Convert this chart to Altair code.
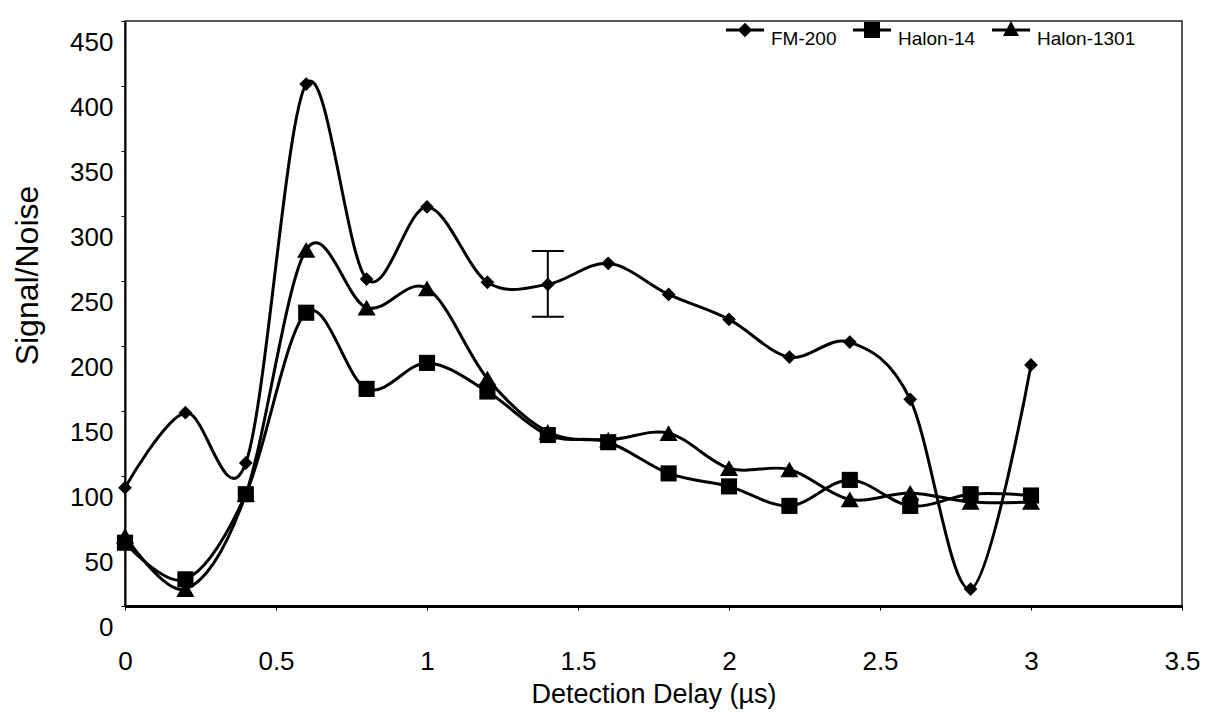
import altair as alt
import pandas as pd

# ---- data ----
delay = [0.0, 0.2, 0.4, 0.6, 0.8, 1.0, 1.2, 1.4, 1.6, 1.8, 2.0, 2.2, 2.4, 2.6, 2.8, 3.0]
fm200 = [91, 148.7, 110, 401.5, 251.5, 307, 249, 247.4, 263.6, 239.7, 220.5, 191.5, 203, 159, 13, 185.4]
halon14 = [48.7, 20.5, 86, 225.6, 167, 187, 165, 131.5, 126, 102, 92, 77, 97, 77, 86, 85]
halon1301 = [54, 13, 86, 274, 229.5, 244.4, 175, 134, 128, 133, 106, 105, 82, 87, 80, 80]

series_names = ["FM-200", "Halon-14", "Halon-1301"]

err_x = [1.4]
err_lo = [222.5]
err_hi = [273]

x_ticks = [0, 0.5, 1, 1.5, 2, 2.5, 3, 3.5]
y_ticks = [0, 50, 100, 150, 200, 250, 300, 350, 400, 450]

# ---- tables ----
rows = []
for name, vals in zip(series_names, [fm200, halon14, halon1301]):
    for xv, yv in zip(delay, vals):
        rows.append({"delay": xv, "sn": yv, "series": name})
df = pd.DataFrame(rows)
err_df = pd.DataFrame({"delay": err_x, "lo": err_lo, "hi": err_hi})
cap_df = pd.DataFrame({"delay": err_x * 2, "v": err_lo + err_hi})

FONT = "Liberation Sans"

x_enc = alt.X(
    "delay:Q",
    scale=alt.Scale(domain=[0, 3.5], nice=False, zero=False),
    axis=alt.Axis(
        values=x_ticks, format="~g", title="Detection Delay (\u00b5s)", grid=False,
        labelFlush=False, labelOverlap=False, labelPadding=38, tickSize=4,
        domainWidth=3, titlePadding=7, titleFontSize=27,
    ),
)
y_enc = alt.Y(
    "sn:Q",
    scale=alt.Scale(domain=[0, 450], nice=False, zero=False),
    axis=alt.Axis(
        values=y_ticks, title="Signal/Noise", grid=False,
        labelFlush=False, labelOverlap=False, labelPadding=8, labelOffset=21,
        tickSize=4, domainWidth=2, titleFontSize=32,
        titleX=-98, titleY=254, titleBaseline="middle", titleAngle=270,
    ),
)

lines = alt.Chart(df).mark_line(
    interpolate="cardinal", color="black", strokeWidth=3
).encode(x=x_enc, y=y_enc, detail="series:N", order="delay:Q")

point_shapes = ["diamond", "square", "triangle-up"]
points = alt.Chart(df).mark_point(filled=True, color="black", opacity=1).encode(
    x="delay:Q",
    y="sn:Q",
    shape=alt.Shape("series:N", scale=alt.Scale(domain=series_names, range=point_shapes), legend=None),
    size=alt.Size("series:N", scale=alt.Scale(domain=series_names, range=[190, 330, 260]), legend=None),
)

BAR = "M -0.95 -0.07 L 0.95 -0.07 L 0.95 0.07 L -0.95 0.07 Z "
leg_paths = [
    BAR + "M 0 -0.36 L 0.36 0 L 0 0.36 L -0.36 0 Z",
    BAR + "M -0.4 -0.4 L 0.4 -0.4 L 0.4 0.4 L -0.4 0.4 Z",
    BAR + "M 0 -0.45 L 0.4 0.3 L -0.4 0.3 Z",
]
legend_layer = alt.Chart(df).transform_filter("false").mark_point(
    filled=True, color="black", opacity=1
).encode(
    x="delay:Q",
    y="sn:Q",
    shape=alt.Shape(
        "series:N",
        scale=alt.Scale(domain=series_names, range=leg_paths),
        legend=alt.Legend(
            title=None, orient="none", legendX=600, legendY=-11, direction="horizontal",
            symbolSize=1600, symbolFillColor="black", symbolStrokeWidth=0,
            symbolOpacity=1, labelFontSize=19, labelFont=FONT,
            labelColor="black", labelBaseline="top", labelOffset=6, columnPadding=15,
            padding=0,
        ),
    ),
)

err_rule = alt.Chart(err_df).mark_rule(color="black", strokeWidth=2).encode(
    x="delay:Q", y="lo:Q", y2="hi:Q"
)
err_caps = alt.Chart(cap_df).mark_tick(
    color="black", orient="horizontal", size=32, thickness=2, opacity=1
).encode(x="delay:Q", y="v:Q")

chart = (
    alt.layer(lines, err_rule, err_caps, points, legend_layer)
    .resolve_scale(shape="independent", size="independent")
    .resolve_legend(shape="independent")
    .properties(
        width=1057,
        height=585,
        autosize=alt.AutoSizeParams(type="none"),
        padding={"left": 125, "top": 21, "right": 25, "bottom": 109},
        background="white",
    )
    .configure_view(stroke="#222", strokeWidth=1.5)
    .configure_axis(
        labelFont=FONT, titleFont=FONT, labelFontSize=26,
        labelColor="black", titleColor="black", domainColor="black", tickColor="black",
        titleFontWeight="normal",
    )
)

chart.save("out.html", embed_options={"renderer": "svg", "actions": False})
